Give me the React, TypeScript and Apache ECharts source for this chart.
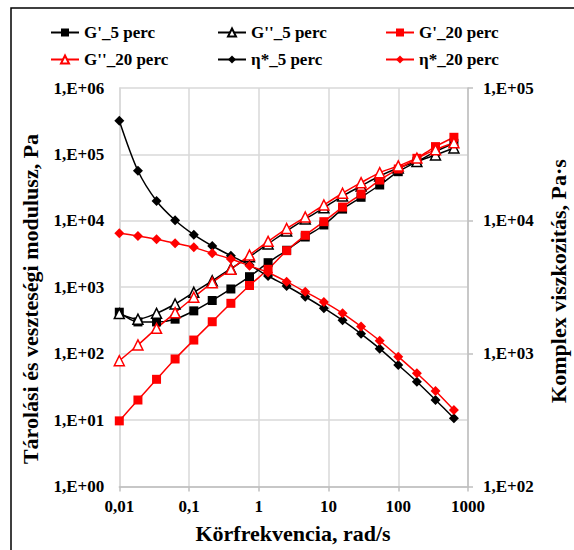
import React, { useEffect, useRef } from "react";
import * as echarts from "echarts";

// angular frequency, rad/s
const freq = [0.01, 0.0185, 0.0342, 0.0631, 0.117, 0.215, 0.398, 0.736, 1.36, 2.51, 4.64, 8.58, 15.9, 29.3, 54.2, 100, 185, 342, 628];

// storage / loss moduli, Pa (left axis)
const gp5 = [420, 300, 300, 330, 440, 630, 940, 1440, 2340, 3600, 5700, 8650, 15000, 22600, 34600, 54900, 77600, 110000, 147000];
const gpp5 = [400, 330, 404, 558, 838, 1250, 1900, 2880, 4480, 7020, 10600, 15700, 23600, 33400, 47300, 62400, 78000, 98000, 125000];
const gp20 = [9.7, 20, 41, 83, 160, 302, 572, 1060, 1860, 3550, 6050, 9700, 16100, 25300, 41100, 60300, 87300, 131000, 181000];
const gpp20 = [78, 135, 240, 413, 705, 1170, 1860, 3050, 4900, 7650, 11400, 17300, 26000, 37500, 53100, 67000, 88000, 118000, 150000];

// complex viscosity, Pa·s (right axis)
const eta5 = [56700, 23800, 14100, 10100, 7860, 6460, 5460, 4640, 3840, 3230, 2680, 2200, 1780, 1410, 1090, 820, 614, 448, 326];
const eta20 = [8050, 7690, 7260, 6780, 6310, 5690, 5150, 4590, 4080, 3480, 2920, 2450, 2010, 1600, 1250, 948, 711, 523, 376];

const seriesNames = ["G'_5 perc", "G''_5 perc", "G'_20 perc", "G''_20 perc", "η*_5 perc", "η*_20 perc"];

const xTickLabels = ["0,01", "0,1", "1", "10", "100", "1000"]; // 1e-2 .. 1e3
const yLeftTickLabels = ["1,E+00", "1,E+01", "1,E+02", "1,E+03", "1,E+04", "1,E+05", "1,E+06"];
const yRightTickLabels = ["1,E+02", "1,E+03", "1,E+04", "1,E+05"];

const xTitle = "Körfrekvencia, rad/s";
const yLeftTitle = "Tárolási és veszteségi modulusz, Pa";
const yRightTitle = "Komplex viszkozitás, Pa·s";

const FONT = "'Times New Roman', 'Liberation Serif', serif";

export default function App() {
  const ref = useRef<HTMLDivElement>(null);
  useEffect(() => {
    if (!ref.current) return;
    const chart = echarts.init(ref.current, null, { renderer: "svg" });
    const exp = (v: number) => Math.round(Math.log10(v));
    const labelStyle = { fontFamily: FONT, fontWeight: "bold" as const, fontSize: 17, color: "#000" };
    const pairs = (ys: number[]) => freq.map((f, i) => [f, ys[i]]);
    const mk = (name: string, ys: number[], color: string, symbol: string, size: number, open: boolean, yAxisIndex: number) => ({
      name,
      type: "line",
      yAxisIndex,
      data: pairs(ys),
      smooth: 0.3,
      symbol,
      symbolSize: size,
      showAllSymbol: true,
      lineStyle: { color, width: 1.5 },
      itemStyle: open ? { color: "#ffffff", borderColor: color, borderWidth: 1.5 } : { color, borderColor: color, borderWidth: 0 },
      emphasis: { disabled: true },
    });
    const legendPos = [
      [50, 24],
      [217, 24],
      [385, 24],
      [50, 51],
      [217, 51],
      [385, 51],
    ];
    const option: any = {
      animation: false,
      grid: { left: 119.3, right: 106, top: 88, bottom: 63.6 },
      legend: seriesNames.map((n, i) => ({
        data: [n],
        left: legendPos[i][0],
        top: legendPos[i][1],
        padding: 0,
        itemWidth: 28,
        itemHeight: 10,
        selectedMode: false,
        textStyle: { ...labelStyle, padding: [0, 0, 0, 0] },
      })),
      xAxis: {
        type: "log",
        logBase: 10,
        min: 0.01,
        max: 1000,
        splitNumber: 5,
        axisLine: { show: true, lineStyle: { color: "#bfbfbf", width: 1.5 } },
        axisTick: { show: true, length: 5, lineStyle: { color: "#bfbfbf", width: 1.5 } },
        minorTick: { show: false },
        splitLine: { show: true, lineStyle: { color: "#d9d9d9", width: 1.5 } },
        axisLabel: { ...labelStyle, margin: 12, formatter: (v: number) => xTickLabels[exp(v) + 2] },
      },
      yAxis: [
        {
          type: "log",
          logBase: 10,
          min: 1,
          max: 1e6,
          splitNumber: 6,
          position: "left",
          axisLine: { show: true, lineStyle: { color: "#d9d9d9", width: 1.5 } },
          axisTick: { show: false },
          splitLine: { show: true, lineStyle: { color: "#d9d9d9", width: 1.5 } },
          axisLabel: { ...labelStyle, margin: 15, formatter: (v: number) => yLeftTickLabels[exp(v)] },
        },
        {
          type: "log",
          logBase: 10,
          min: 100,
          max: 1e5,
          splitNumber: 3,
          position: "right",
          axisLine: { show: true, lineStyle: { color: "#bfbfbf", width: 1.5 } },
          axisTick: { show: true, length: 5, lineStyle: { color: "#bfbfbf", width: 1.5 } },
          splitLine: { show: false },
          axisLabel: { ...labelStyle, margin: 15, formatter: (v: number) => yRightTickLabels[exp(v) - 2] },
        },
      ],
      graphic: [
        {
          type: "rect",
          silent: true,
          z: -10,
          shape: { x: 11, y: 8, width: 700, height: 700 },
          style: { fill: "none", stroke: "#000", lineWidth: 1.5 },
        },
        {
          type: "text",
          x: 293,
          y: 533,
          style: { text: xTitle, font: `bold 22px ${FONT}`, fill: "#000", align: "center", verticalAlign: "middle" },
        },
        {
          type: "text",
          x: 30,
          y: 299,
          rotation: Math.PI / 2,
          style: { text: yLeftTitle, font: `bold 22px ${FONT}`, fill: "#000", align: "center", verticalAlign: "middle" },
        },
        {
          type: "text",
          x: 558,
          y: 281,
          rotation: Math.PI / 2,
          style: { text: yRightTitle, font: `bold 22px ${FONT}`, fill: "#000", align: "center", verticalAlign: "middle" },
        },
      ],
      series: [
        mk(seriesNames[0], gp5, "#000000", "rect", 9, false, 0),
        mk(seriesNames[1], gpp5, "#000000", "triangle", 10, true, 0),
        mk(seriesNames[2], gp20, "#ff0000", "rect", 9, false, 0),
        mk(seriesNames[3], gpp20, "#ff0000", "triangle", 10, true, 0),
        mk(seriesNames[4], eta5, "#000000", "diamond", 10, false, 1),
        mk(seriesNames[5], eta20, "#ff0000", "diamond", 10, false, 1),
      ],
    };
    chart.setOption(option);
    return () => chart.dispose();
  }, []);
  return <div ref={ref} style={{ position: "fixed", left: 0, top: 0, width: 574, height: 550, background: "#fff" }} />;
}
